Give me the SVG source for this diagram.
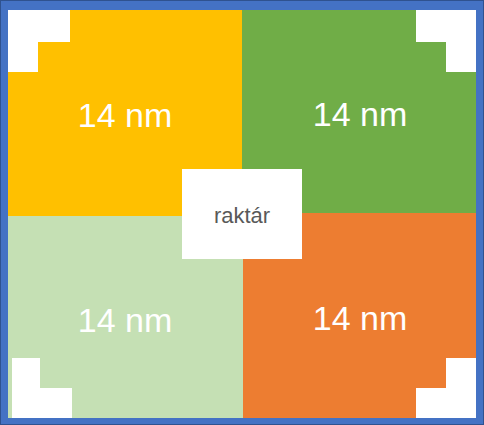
<svg xmlns="http://www.w3.org/2000/svg" width="484" height="425" viewBox="0 0 484 425">
<style>
.big{font-family:"Liberation Sans",Arial,sans-serif;font-size:34px;fill:#ffffff;text-anchor:middle}
.lbl{font-family:"Liberation Sans",Arial,sans-serif;font-size:22px;fill:#595959;text-anchor:middle}
.corner{fill:#ffffff}
</style>
<g id="frame">
<rect x="0" y="0" width="484" height="425" fill="#4472C4"/>
<rect x="0.5" y="0.5" width="483" height="424" fill="none" stroke="#2F528F" stroke-width="1"/>
</g>
<g id="q-top-left">
<rect x="8" y="10" width="234" height="206" fill="#FFC000"/>
<text class="big" x="125" y="127">14 nm</text>
</g>
<g id="q-top-right">
<rect x="242" y="10" width="234" height="203" fill="#70AD47"/>
<text class="big" x="360" y="126">14 nm</text>
</g>
<g id="q-bottom-left">
<rect x="8" y="216" width="235" height="202" fill="#C5E0B4"/>
<text class="big" x="125" y="332">14 nm</text>
</g>
<g id="q-bottom-right">
<rect x="243" y="213" width="233" height="205" fill="#ED7D31"/>
<text class="big" x="360" y="330">14 nm</text>
</g>
<g id="corners">
<path class="corner" d="M8,10 H70 V42 H38 V72 H8 Z"/>
<path class="corner" d="M416,10 H476 V72 H446 V42 H416 Z"/>
<path class="corner" d="M12,358 H40 V388 H72 V418 H12 Z"/>
<path class="corner" d="M446,358 H476 V418 H416 V388 H446 Z"/>
</g>
<g id="storage">
<rect x="182" y="169" width="120" height="90" fill="#ffffff"/>
<text class="lbl" x="242" y="223">raktár</text>
</g>
</svg>
